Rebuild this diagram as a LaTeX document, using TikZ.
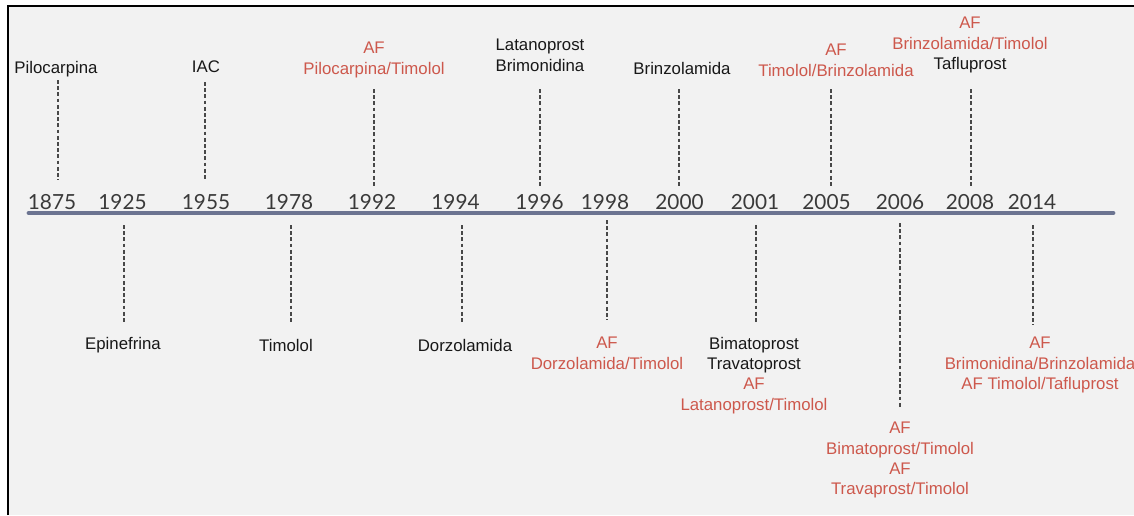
\documentclass[tikz,border=0pt]{standalone}
\usepackage{fontspec}
\setmainfont{Liberation Sans}
\newfontfamily\yearfont{Lato}
\usepackage{xcolor}
\usepackage{tikz}
\usetikzlibrary{positioning}

\definecolor{afred}{RGB}{205,88,76}
\definecolor{inkgray}{RGB}{24,24,24}
\definecolor{yeargray}{RGB}{58,58,58}
\definecolor{barblue}{RGB}{108,116,145}
\definecolor{tickgray}{RGB}{72,72,72}
\definecolor{paper}{RGB}{242,242,242}

\begin{document}
\begin{tikzpicture}[
  x=1pt, y=-1pt,
  lab/.style={anchor=north, inner sep=0pt, align=center, text=inkgray,
    font=\fontsize{16.8}{20.3}\selectfont},
  year/.style={anchor=base, inner sep=0pt, text=yeargray,
    font=\yearfont\fontsize{20.8}{24}\selectfont},
  tick/.style={draw=tickgray, line width=1.3pt, dash pattern=on 3.8pt off 2.4pt},
  bar/.style={draw=barblue, line width=4.8pt, line cap=round}
]
\useasboundingbox (0,0) rectangle (1134,515);
\fill[paper] (8,6) rectangle (1134,515);
\draw[black, line width=2pt] (8.3,515) -- (8.3,6.3) -- (1134,6.3);

% timeline
\coordinate (barL) at (29,213);
\coordinate (barR) at (1113,213);
\draw[bar] (barL) -- (barR);
\foreach \yr/\x in {1875/52, 1925/122.5, 1955/206, 1978/289, 1992/372,
                    1994/455.5, 1996/539.5, 1998/605, 2000/679.5, 2001/755,
                    2005/826.5, 2006/900, 2008/970, 2014/1032} {
  \node[year] (y\yr) at (\x,209) {\yr};
}

% dashed ticks
\foreach \n/\x/\ya/\yb in {1875/58/80/180, 1955/205/82/180, 1992/374/89/188,
    1996/540/89/188, 2000/679/89/188, 2005/831/89/188, 2008/971/89/188,
    1925/124/225/323, 1978/291/225/323, 1994/462/225/322, 1998/607/220/320,
    2001/756/225/324, 2006/900/223/408, 2014/1033/225/325} {
  \coordinate (ta\n) at (\x,\ya);
  \coordinate (tb\n) at (\x,\yb);
  \draw[tick] (ta\n) -- (tb\n);
}

% above the line
\node[lab] (pilocarpina) at (56,61) {Pilocarpina};
\node[lab] (iac) at (206,61) {IAC};
\node[lab, text=afred] (af1992) at (374,42) {AF\\Pilocarpina/Timolol};
\node[lab] (lat1996) at (540,39) {Latanoprost\\Brimonidina};
\node[lab] (brinz2000) at (682,62) {Brinzolamida};
\node[lab, text=afred] (af2005) at (836,44) {AF\\Timolol/Brinzolamida};
\node[lab] (af2008) at (970,17) {\textcolor{afred}{AF}\\\textcolor{afred}{Brinzolamida/Timolol}\\Tafluprost};

% below the line
\node[lab] (epinefrina) at (123,337) {Epinefrina};
\node[lab] (timolol) at (286,339) {Timolol};
\node[lab] (dorzo1994) at (465,339) {Dorzolamida};
\node[lab, text=afred] (af1998) at (607,337) {AF\\Dorzolamida/Timolol};
\node[lab] (bima2001) at (754,337) {Bimatoprost\\Travatoprost\\\textcolor{afred}{AF}\\\textcolor{afred}{Latanoprost/Timolol}};
\node[lab, text=afred] (af2006) at (900,422) {AF\\Bimatoprost/Timolol\\AF\\Travaprost/Timolol};
\node[lab, text=afred] (af2014) at (1040,337) {AF\\Brimonidina/Brinzolamida\\AF Timolol/Tafluprost};
\end{tikzpicture}
\end{document}
